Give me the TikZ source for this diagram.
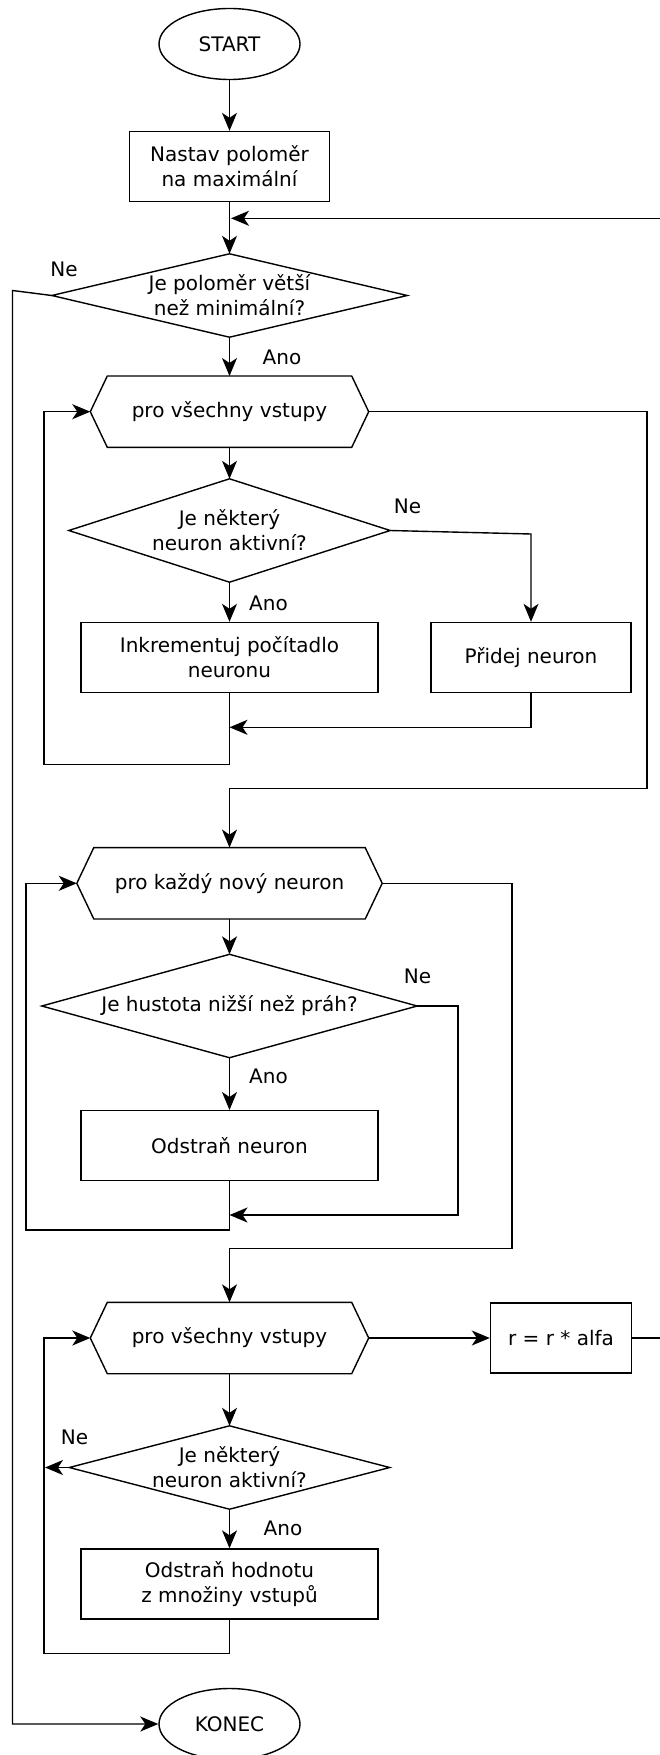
\documentclass[tikz,border=0pt]{standalone}
\usepackage{fontspec}
\setmainfont{DejaVu Sans}
\usetikzlibrary{arrows.meta, shapes.geometric}

\begin{document}
\begin{tikzpicture}
        [x=1pt, y=-1pt, line width=1.4pt, >={Stealth[length=18pt, width=15pt, inset=5pt]},
         every node/.style={font=\fontsize{20}{25}\selectfont, inner sep=0pt, align=center},
         term/.style={draw, ellipse, minimum width=141pt, minimum height=71pt},
         proc/.style={draw, minimum height=70pt},
         frame/.style={minimum height=70pt}]

        \useasboundingbox (0, 0) rectangle (660, 1755);

        \node[term] (start) at (229.5, 44) {START};
        \node[proc, minimum width=200pt] (init) at (229.5, 166.5) {Nastav poloměr\\na maximální};
        \node[frame, minimum width=354pt, minimum height=82pt] (d1) at (229.5, 295.5) {Je poloměr větší\\než minimální?};
        \node[frame, minimum width=277pt] (h1) at (229.5, 411.7) {pro všechny vstupy};
        \node[frame, minimum width=320pt, minimum height=102pt] (d2) at (229.5, 530.5) {Je některý\\neuron aktivní?};
        \node[proc, minimum width=297pt] (inc) at (229.5, 657.5) {Inkrementuj počítadlo\\neuronu};
        \node[proc, minimum width=200pt] (add) at (531, 657.5) {Přidej neuron};
        \node[frame, minimum width=304pt] (h2) at (229.5, 883.3) {pro každý nový neuron};
        \node[frame, minimum width=374pt, minimum height=102pt] (d3) at (229.5, 1006) {Je hustota nižší než práh?};
        \node[proc, minimum width=297pt] (del) at (229.5, 1145.7) {Odstraň neuron};
        \node[frame, minimum width=277pt] (h3) at (229.5, 1338) {pro všechny vstupy};
        \node[proc, minimum width=141pt] (rr) at (561, 1338) {r = r * alfa};
        \node[frame, minimum width=319pt, minimum height=82pt] (d4) at (229.5, 1467.5) {Je některý\\neuron aktivní?};
        \node[proc, minimum width=297pt] (delin) at (229.5, 1584) {Odstraň hodnotu\\z množiny vstupů};
        \node[term] (konec) at (229.5, 1724) {KONEC};

        \node (ne1) at (64, 269) {Ne};
        \node (ano1) at (282, 357.5) {Ano};
        \node (ne2) at (407.5, 506) {Ne};
        \node (ano2) at (268.5, 603.5) {Ano};
        \node (ne3) at (417.5, 976.5) {Ne};
        \node (ano3) at (268.5, 1076) {Ano};
        \node (ne4) at (74.5, 1437) {Ne};
        \node (ano4) at (283, 1528.5) {Ano};

        \foreach \d in {d1, d2, d3, d4}
          \draw (\d.north) -- (\d.east) -- (\d.south) -- (\d.west) -- cycle;
        \foreach \h in {h1, h2, h3}
          \draw ([xshift=17pt]\h.north west) -- ([xshift=-17pt]\h.north east) -- (\h.east)
            -- ([xshift=-17pt]\h.south east) -- ([xshift=17pt]\h.south west) -- (\h.west) -- cycle;

        \coordinate (ret) at (231, 218.3);
        \coordinate (back) at (662, 218.3);
        \coordinate (nec1) at (12.5, 290.5);
        \coordinate (nec2) at (531, 534);
        \coordinate (join1) at (229.5, 727.3);
        \coordinate (loop1) at (43.8, 764.3);
        \coordinate (exit1) at (647, 788.3);
        \coordinate (nec3) at (458, 1215);
        \coordinate (join2) at (229.5, 1215);
        \coordinate (loop2) at (26, 1230);
        \coordinate (exit2) at (512, 1248.5);
        \coordinate (nec4) at (45, 1467.5);
        \coordinate (loop3) at (43.8, 1653.3);

        \draw[->] (start) -- (init);
        \draw[->] (init) -- (d1);
        \draw[->] (d1) -- (h1);
        \draw[->] (h1) -- (d2);
        \draw[->] (d2) -- (inc);
        \draw[->] (d2.east) -- (nec2) -- (add.north);
        \draw[->] (add.south) |- (join1);
        \draw[->] (inc.south) |- (loop1) |- (h1.west);
        \draw[->] (h1.east) -| (exit1) -| (h2.north);
        \draw[->] (h2) -- (d3);
        \draw[->] (d3) -- (del);
        \draw[->] (d3.east) -| (nec3) -- (join2);
        \draw[->] (del.south) |- (loop2) |- (h2.west);
        \draw[->] (h2.east) -| (exit2) -| (h3.north);
        \draw[->] (h3) -- (d4);
        \draw[->] (h3) -- (rr);
        \draw[->] (d4) -- (delin);
        \draw[->] (d4.west) -- (nec4);
        \draw[->] (delin.south) |- (loop3) |- (h3.west);
        \draw[->] (rr.east) -| (back) -- (ret);
        \draw[->] (d1.west) -- (nec1) |- (konec.west);

      \end{tikzpicture}
\end{document}
